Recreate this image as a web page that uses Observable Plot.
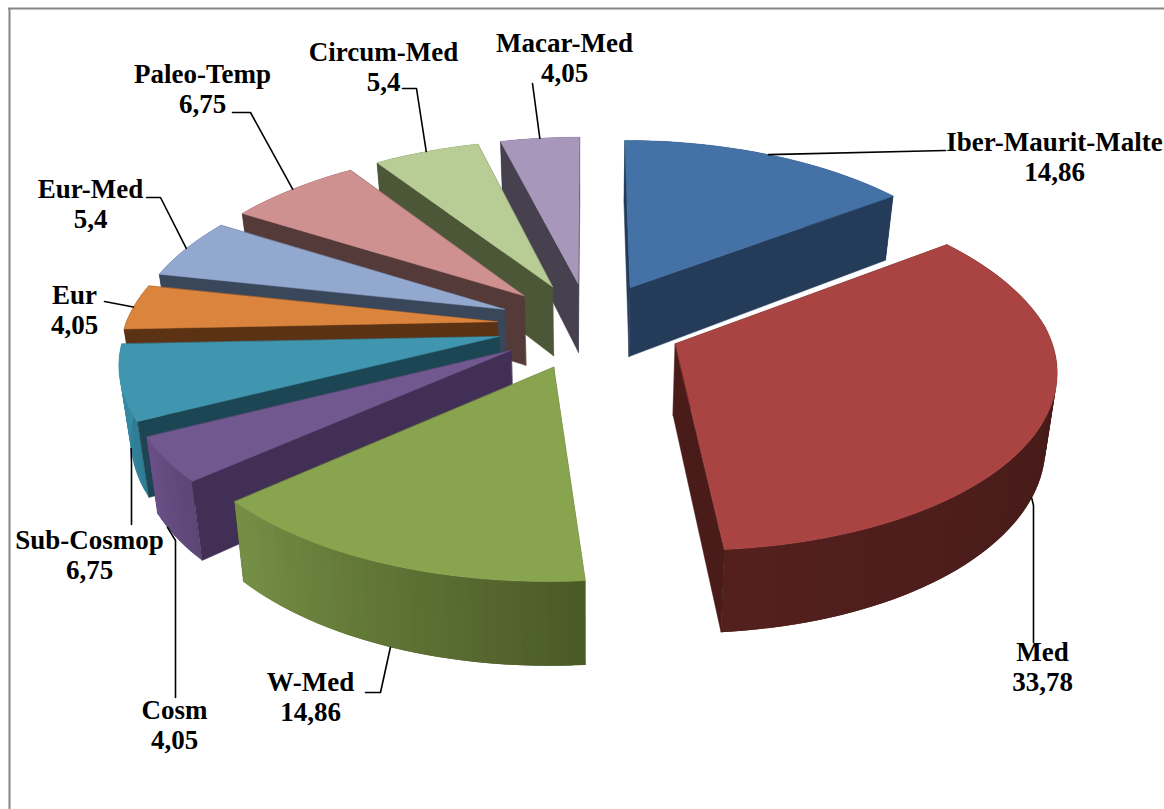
<!DOCTYPE html>
<html>
<head>
<meta charset="utf-8">
<script src="https://cdn.jsdelivr.net/npm/d3@7"></script>
<script src="https://cdn.jsdelivr.net/npm/@observablehq/plot@0.6"></script>
<style>
  html, body { margin: 0; padding: 0; background: #fff; }
  svg { display: block; }
</style>
</head>
<body>
<div id="chart"></div>
<script>
// Chorological spectrum, in percent, clockwise from twelve o'clock.
const categories = ["Iber-Maurit-Malte", "Med", "W-Med", "Cosm", "Sub-Cosmop", "Eur", "Eur-Med", "Paleo-Temp", "Circum-Med", "Macar-Med"];
const valueLabels = ["14,86", "33,78", "14,86", "4,05", "6,75", "4,05", "5,4", "6,75", "5,4", "4,05"];
const values = [14.86, 33.78, 14.86, 4.05, 6.75, 4.05, 5.4, 6.75, 5.4, 4.05];

const topColors = ["#4472a6", "#a94442", "#89a44e", "#71588f", "#4096ae", "#db843d", "#92a8cf", "#cf9090", "#b8cc95", "#a798bb"];
const faceColors = ["#243c5a", "#491b19", "#4d5e28", "#412f55", "#1d4654", "#5b3214", "#3a465a", "#553a3a", "#4c5737", "#47404f"];
const wallStart = ["#243c5a", "#3a1714", "#4a5a27", "#5c4675", "#2f7d94", "#5b3214", "#3a465a", "#553a3a", "#4c5737", "#47404f"];
const wallEnd = ["#3f6a9b", "#54201e", "#768f45", "#6a4f87", "#3a8ba3", "#7a451b", "#5f6f8f", "#8a5a5a", "#76885a", "#6a5f7d"];

// Label placement: top of the first text line, its centre, and the leader's bends.
const labelX = [1054, 1042, 310, 174, 89, 74, 90, 202, 383, 564];
const labelY = [129, 639, 669, 697, 527, 282, 176, 61, 39, 30];
const leaderX = [[945], [1033, 1033], [380, 365], [175, 175], [131, 131], [104], [160, 146], [250, 232], [416, 402], [532]];
const leaderY = [[150], [505, 642], [692, 692], [540, 697], [462, 524], [301], [197, 197], [112, 112], [88, 88], [83]];
// Where along its slice's rim each leader starts (0 = first edge, 1 = last edge).
const leaderRim = [0.5, 0.5, 0.5, 0.72, 0.6, 0.5, 0.5, 0.5, 0.5, 0.5];

// Camera: pixel position of the pie centre, radii, wedge height, explosion.
const cx = 589, cy = 325, rx = 372, ry = 175, depth = 71, explode = 0.25, viewDist = 7.8, taper = 0.025, backNarrow = 0.02;

function project(X, Y, z) {
  const s = 1 / (1 + Y / viewDist);
  const t = (1 - taper * z) * (1 - backNarrow * Math.max(0, Y));
  return [cx + rx * X * s * t, cy - ry * Y * s + depth * s * z];
}

const total = d3.sum(values);
let running = 0;
const slices = values.map((v, i) => {
  const a0 = (running / total) * 2 * Math.PI;
  running += v;
  const a1 = (running / total) * 2 * Math.PI;
  const mid = (a0 + a1) / 2;
  return {i, a0, a1, mid, ox: explode * Math.sin(mid), oy: explode * Math.cos(mid)};
});

const rim = (s, a, z) => project(s.ox + Math.sin(a), s.oy + Math.cos(a), z);
const apex = (s, z) => project(s.ox, s.oy, z);
const arcAngles = (s, step) => {
  const n = Math.max(2, Math.ceil((s.a1 - s.a0) / step));
  return d3.range(n + 1).map((k) => s.a0 + ((s.a1 - s.a0) * k) / n);
};

// Polygons are stacked back to front within each slice.
const polygons = [];
let polyId = 0;
const addPolygon = (points, color, edge = color) => {
  const id = polyId++;
  for (const [x, y] of points) polygons.push({id, x, y, color, edge});
};

// A cut face is turned to the viewer when its outward normal points at the camera.
const facesViewer = (s, a, isStart) => {
  const nx = isStart ? -Math.cos(a) : Math.cos(a);
  const ny = isStart ? Math.sin(a) : -Math.sin(a);
  return nx * (0 - s.ox) + ny * (-viewDist - s.oy) > 0;
};

for (const s of [...slices].sort((p, q) => q.oy - p.oy)) {
  const angles = arcAngles(s, 0.03);
  const cuts = [[s.a0, true], [s.a1, false]];
  const drawFace = (a) => addPolygon([apex(s, 0), rim(s, a, 0), rim(s, a, 1), apex(s, 1)], faceColors[s.i]);

  cuts.filter(([a, st]) => !facesViewer(s, a, st)).forEach(([a]) => drawFace(a));
  // Outer wall as overlapping strips whose shade runs along the arc.
  for (let k = 0; k < angles.length - 1; k++) {
    const a = angles[k];
    const b = angles[Math.min(k + 2, angles.length - 1)];
    const t = (k + 0.5) / (angles.length - 1);
    addPolygon([rim(s, a, 0), rim(s, b, 0), rim(s, b, 1), rim(s, a, 1)], d3.interpolateRgb(wallStart[s.i], wallEnd[s.i])(t), "none");
  }
  cuts.filter(([a, st]) => facesViewer(s, a, st)).forEach(([a]) => drawFace(a));
  addPolygon([apex(s, 0), ...angles.map((a) => rim(s, a, 0))], topColors[s.i]);
}

// Leaders start on the rim, at the wall's lower edge for slices facing the viewer.
const leaders = [];
slices.forEach((s) => {
  const a = s.a0 + (s.a1 - s.a0) * leaderRim[s.i];
  const start = [1, 2, 3, 4].includes(s.i) ? rim(s, a, 1) : rim(s, a, 0);
  const line = [start, ...leaderX[s.i].map((x, k) => [x, leaderY[s.i][k]])];
  line.forEach(([x, y]) => leaders.push({id: s.i, x, y}));
});

const labels = slices.map((s) => ({
  x: labelX[s.i],
  y: labelY[s.i],
  text: categories[s.i] + "\n" + valueLabels[s.i]
}));

const chart = Plot.plot({
  width: 1164,
  height: 809,
  margin: 0,
  x: {domain: [0, 1164], range: [0, 1164], axis: null},
  y: {domain: [0, 809], range: [0, 809], axis: null},
  color: {type: "identity"},
  style: {background: "#fff"},
  marks: [
    Plot.ruleY([8], {x1: 8, x2: 1164, stroke: "#868686", strokeWidth: 2}),
    Plot.ruleX([9], {y1: 8, y2: 809, stroke: "#868686", strokeWidth: 2}),
    Plot.line(polygons, {x: "x", y: "y", z: "id", fill: "color", stroke: "edge", strokeWidth: 0.5, curve: "linear-closed"}),
    Plot.line(leaders, {x: "x", y: "y", z: "id", stroke: "#000", strokeWidth: 1.6}),
    Plot.text(labels, {
      x: "x", y: "y", text: "text", lineHeight: 1.12, lineAnchor: "top",
      fontFamily: "Liberation Serif", fontWeight: "bold", fontSize: 27, fill: "#000"
    })
  ]
});
document.getElementById("chart").append(chart);
</script>
</body>
</html>
